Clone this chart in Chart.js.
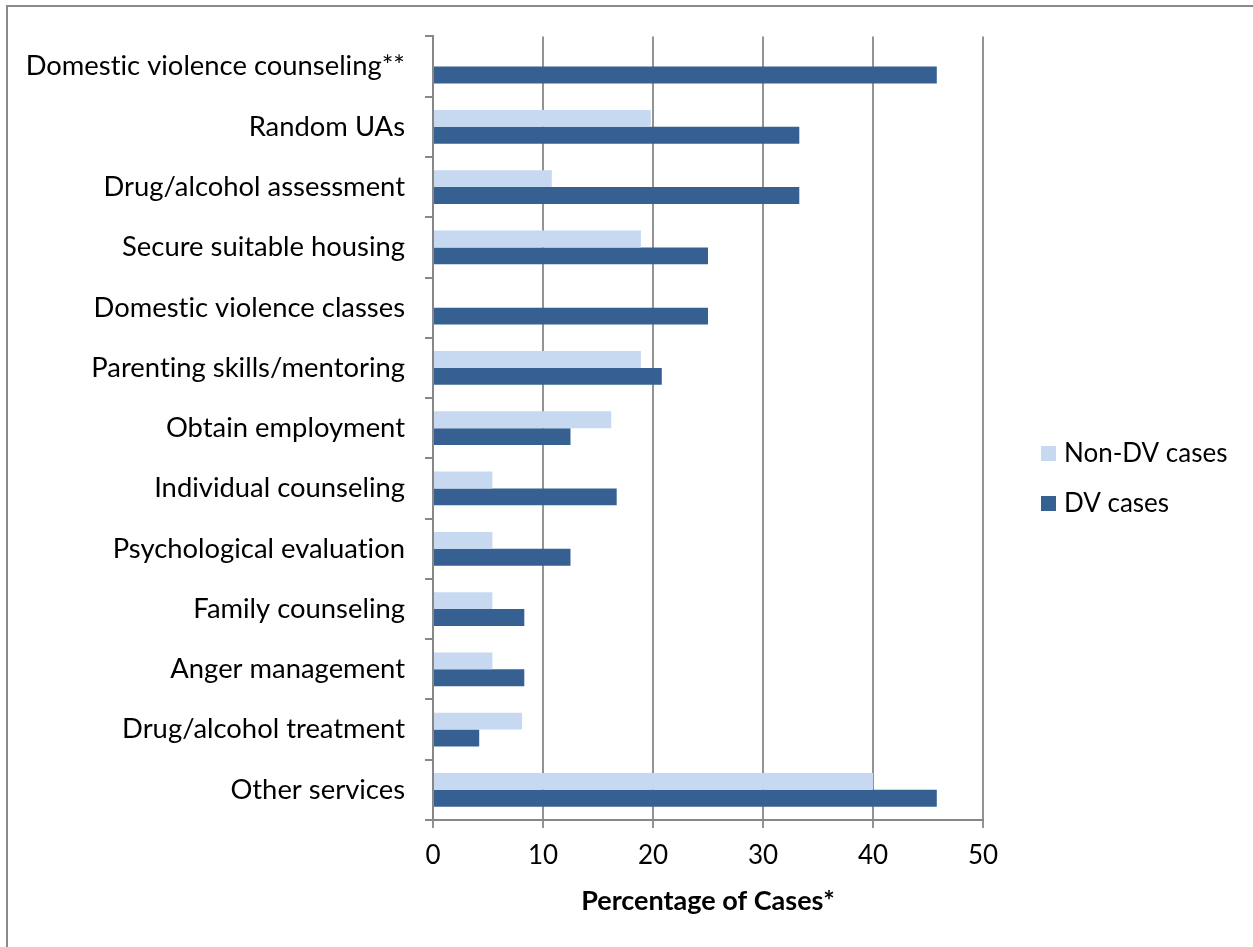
<!DOCTYPE html>
<html>
<head>
<meta charset="utf-8">
<script src="https://cdn.jsdelivr.net/npm/chart.js@4/dist/chart.umd.min.js"></script>
<style>
  html, body { margin: 0; padding: 0; background: #fff; }
  #wrap { width: 1253px; height: 947px; position: relative; }
</style>
</head>
<body>
<div id="wrap"><canvas id="chart" width="1253" height="947"></canvas></div>
<script>
// Services ordered for display, top to bottom
const categories = [
  'Domestic violence counseling**',
  'Random UAs',
  'Drug/alcohol assessment',
  'Secure suitable housing',
  'Domestic violence classes',
  'Parenting skills/mentoring',
  'Obtain employment',
  'Individual counseling',
  'Psychological evaluation',
  'Family counseling',
  'Anger management',
  'Drug/alcohol treatment',
  'Other services'
];

// Percentage of cases with each service requirement
const nonDvCases = [0, 19.8, 10.8, 18.9, 0, 18.9, 16.2, 5.4, 5.4, 5.4, 5.4, 8.1, 40.0];
const dvCases    = [45.8, 33.3, 33.3, 25.0, 25.0, 20.8, 12.5, 16.7, 12.5, 8.3, 8.3, 4.2, 45.8];

const seriesNames = ['Non-DV cases', 'DV cases'];
const xTickValues = [0, 10, 20, 30, 40, 50];
const axisTitle = 'Percentage of Cases*';

const FONT_FAMILY = 'Lato, "Open Sans", "DejaVu Sans", sans-serif';
const LABEL_SIZE = 27.4;
const GRID_GREY = '#939393';
const AXIS_GREY = '#878787';

// Outer frame of the chart object (left and top edges show); plain glyphs without ligatures
const framePlugin = {
  id: 'frame',
  beforeDraw(chart) {
    const ctx = chart.ctx;
    ctx.textRendering = 'optimizeSpeed';
    ctx.save();
    ctx.fillStyle = '#ffffff';
    ctx.fillRect(0, 0, chart.width, chart.height);
    ctx.strokeStyle = '#8a8a8a';
    ctx.lineWidth = 2;
    ctx.beginPath();
    ctx.moveTo(7, chart.height + 5);
    ctx.lineTo(7, 6);
    ctx.lineTo(chart.width + 5, 6);
    ctx.stroke();
    ctx.restore();
  }
};

// Legend to the right of the plot, square swatches
const sideLegend = {
  id: 'sideLegend',
  afterDraw(chart) {
    const ctx = chart.ctx;
    const area = chart.chartArea;
    const x = area.right + 58;
    const y0 = chart.height / 2 - 20;
    ctx.save();
    ctx.font = '26px ' + FONT_FAMILY;
    ctx.textBaseline = 'middle';
    ctx.textAlign = 'left';
    chart.data.datasets.forEach((ds, i) => {
      const y = y0 + i * 50;
      ctx.fillStyle = ds.backgroundColor;
      ctx.fillRect(x, y - 7.5, 15, 15);
      ctx.fillStyle = '#000000';
      ctx.fillText(ds.label, x + 23, y);
    });
    ctx.restore();
  }
};

new Chart(document.getElementById('chart'), {
  type: 'bar',
  data: {
    labels: categories,
    datasets: [
      {
        label: seriesNames[0],
        data: nonDvCases,
        backgroundColor: '#C6D9F1',
        borderWidth: 0,
        categoryPercentage: 0.56,
        barPercentage: 1.0
      },
      {
        label: seriesNames[1],
        data: dvCases,
        backgroundColor: '#366092',
        borderWidth: 0,
        categoryPercentage: 0.56,
        barPercentage: 1.0
      }
    ]
  },
  options: {
    indexAxis: 'y',
    responsive: false,
    animation: false,
    layout: { padding: { top: 35, left: 0, right: 270, bottom: 0 } },
    plugins: {
      legend: { display: false },
      tooltip: { enabled: false }
    },
    scales: {
      x: {
        type: 'linear',
        min: 0,
        max: 50,
        afterBuildTicks(scale) {
          scale.ticks = xTickValues.map(v => ({ value: v }));
        },
        afterFit(scale) { scale.height = 127; },
        ticks: {
          color: '#000000',
          font: { family: FONT_FAMILY, size: 26 },
          padding: 12
        },
        grid: {
          color: GRID_GREY,
          lineWidth: 2,
          tickLength: 8,
          drawTicks: true
        },
        border: { color: AXIS_GREY, width: 2 },
        title: {
          display: true,
          text: axisTitle,
          color: '#000000',
          font: { family: FONT_FAMILY, size: 27, weight: 'bold' },
          padding: { top: 0, bottom: 30 }
        }
      },
      y: {
        type: 'category',
        afterFit(scale) { scale.width = 433; },
        ticks: {
          color: '#000000',
          font: { family: FONT_FAMILY, size: LABEL_SIZE },
          padding: 20
        },
        grid: {
          offset: true,
          drawOnChartArea: false,
          drawTicks: true,
          tickLength: 8,
          color: AXIS_GREY,
          lineWidth: 2
        },
        border: { color: AXIS_GREY, width: 2 }
      }
    }
  },
  plugins: [framePlugin, sideLegend]
});
</script>
</body>
</html>
